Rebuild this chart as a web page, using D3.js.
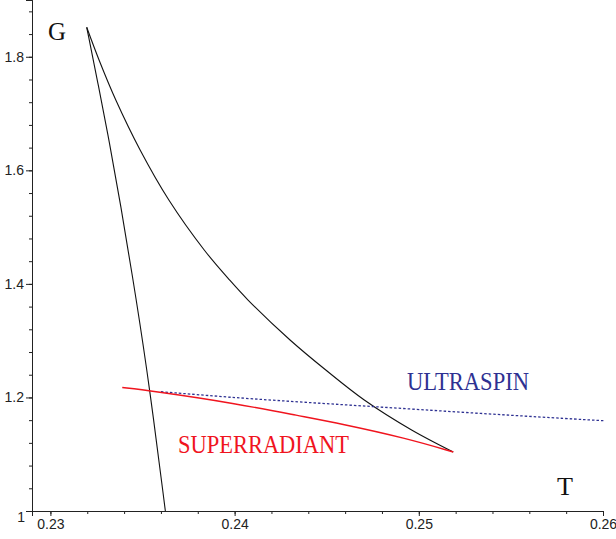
<!doctype html>
<html lang="en">
  <head>
    <meta charset="utf-8">
    <script src="https://d3js.org/d3.v7.min.js"></script>
    <title>G vs T</title>
    <style>
      body { margin: 0; background: #fff; }
      .tick text { font-family: "Liberation Sans", Arial, sans-serif; font-size: 14px; fill: #222; }
      .lbl { font-family: "Liberation Serif", "Times New Roman", serif; }
    </style>
  </head>
  <body>
    <svg id="chart" width="616" height="539"></svg>

    <script type="text/javascript">

// data, [T, G]
var leftBranch = [
  [0.23197, 1.8519], [0.23262, 1.7473], [0.23321, 1.6481], [0.23377, 1.5477],
  [0.23467, 1.3716], [0.23539, 1.2166], [0.23624, 1.0000]
];
var upperBranch = [
  [0.23197, 1.8519], [0.23264, 1.7943], [0.23355, 1.7238], [0.23487, 1.6358],
  [0.23643, 1.5477], [0.23835, 1.4597], [0.23973, 1.4068], [0.24073, 1.3716],
  [0.24301, 1.3012], [0.24495, 1.2483], [0.24704, 1.1955], [0.24961, 1.1427],
  [0.25187, 1.1039]
];
var superradiant = [
  [0.23390, 1.2175], [0.23541, 1.2119], [0.24009, 1.1893], [0.24355, 1.1673],
  [0.24572, 1.1541], [0.24934, 1.1280], [0.25187, 1.1039]
];
var ultraspin = [
  [0.23600, 1.2101], [0.24084, 1.1973], [0.24681, 1.1855], [0.25332, 1.1717],
  [0.26002, 1.1590]
];

var xTicks = [0.23, 0.24, 0.25, 0.26];
var xTickLabels = ["0.23", "0.24", "0.25", "0.26"];
var yTicks = [1.2, 1.4, 1.6, 1.8];
var yTickLabels = ["1.2", "1.4", "1.6", "1.8"];

var svg = d3.select("#chart");
var x = d3.scaleLinear().domain([0.229, 0.26]).range([32, 603]);
var y = d3.scaleLinear().domain([1, 1.9]).range([511, 0]);

// minor ticks
var xMinor = d3.range(0, 16).map(function(i) { return 0.23 + i * 0.002; });
var yMinor = d3.range(1, 23).map(function(i) { return 1 + i * 0.04; });

var xAxis = svg.append("g").attr("transform", "translate(0," + y(1) + ")");
xAxis.call(d3.axisBottom(x).tickValues(xMinor).tickSize(3).tickFormat(""));
xAxis.append("g").call(d3.axisBottom(x).tickValues(xTicks).tickSize(5)
  .tickFormat(function(d, i) { return xTickLabels[i]; }).tickPadding(3));
xAxis.selectAll(".domain").attr("stroke", "#222");
xAxis.selectAll(".tick line").attr("stroke", "#222");

var yAxis = svg.append("g").attr("transform", "translate(" + x(0.229) + ",0)");
yAxis.call(d3.axisLeft(y).tickValues(yMinor).tickSize(3).tickFormat(""));
yAxis.append("g").call(d3.axisLeft(y).tickValues(yTicks).tickSize(6)
  .tickFormat(function(d, i) { return yTickLabels[i]; }).tickPadding(2));
yAxis.selectAll(".domain").attr("stroke", "#222");
yAxis.selectAll(".tick line").attr("stroke", "#222");

// the "1" at the corner
svg.append("text")
  .attr("x", 25).attr("y", 522).attr("text-anchor", "end")
  .style("font-family", "'Liberation Sans', Arial, sans-serif").style("font-size", "14px").style("fill", "#222")
  .text("1");

var line = d3.line()
  .x(function(d) { return x(d[0]); })
  .y(function(d) { return y(d[1]); })
  .curve(d3.curveBasis);
var smooth = d3.line()
  .x(function(d) { return x(d[0]); })
  .y(function(d) { return y(d[1]); })
  .curve(d3.curveCatmullRom);

svg.append("path").datum(leftBranch).attr("d", line)
  .attr("fill", "none").attr("stroke", "#111").attr("stroke-width", 1.1);
svg.append("path").datum(upperBranch).attr("d", smooth)
  .attr("fill", "none").attr("stroke", "#111").attr("stroke-width", 1.1);
svg.append("path").datum(ultraspin).attr("d", line)
  .attr("fill", "none").attr("stroke", "#2e3192").attr("stroke-width", 1.3)
  .attr("stroke-dasharray", "2.5,2");
svg.append("path").datum(superradiant).attr("d", line)
  .attr("fill", "none").attr("stroke", "#f0141e").attr("stroke-width", 1.4);

// labels
svg.append("text").attr("class", "lbl").attr("x", 48).attr("y", 40)
  .attr("textLength", 18).attr("lengthAdjust", "spacingAndGlyphs")
  .style("font-size", "26px").style("fill", "#111").text("G");
svg.append("text").attr("class", "lbl").attr("x", 557).attr("y", 495)
  .attr("textLength", 16).attr("lengthAdjust", "spacingAndGlyphs")
  .style("font-size", "26px").style("fill", "#111").text("T");
svg.append("text").attr("class", "lbl").attr("x", 407).attr("y", 390)
  .attr("textLength", 122).attr("lengthAdjust", "spacingAndGlyphs")
  .style("font-size", "26px").style("fill", "#2e3192").text("ULTRASPIN");
svg.append("text").attr("class", "lbl").attr("x", 178).attr("y", 453)
  .attr("textLength", 171).attr("lengthAdjust", "spacingAndGlyphs")
  .style("font-size", "26px").style("fill", "#f0141e").text("SUPERRADIANT");

    </script>
  </body>
</html>
